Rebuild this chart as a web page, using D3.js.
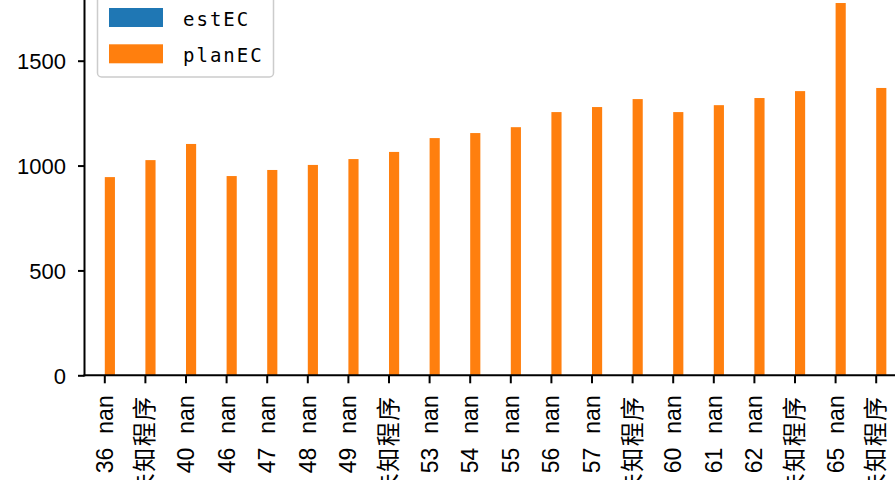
<!DOCTYPE html>
<html><head><meta charset="utf-8">
<script src="https://cdn.jsdelivr.net/npm/d3@7"></script>
<style>body{margin:0;background:#fff;}svg{display:block;}</style>
</head><body>
<svg id="c" width="895" height="480"></svg>
<script>
const categories = ["36 nan","39 未知程序","40 nan","46 nan","47 nan","48 nan","49 nan","52 未知程序","53 nan","54 nan","55 nan","56 nan","57 nan","59 未知程序","60 nan","61 nan","62 nan","64 未知程序","65 nan","66 未知程序"];
const estEC = [0,0,0,0,0,0,0,0,0,0,0,0,0,0,0,0,0,0,0,0];
const planEC = [945,1026,1103,950,979,1003,1031,1065,1131,1155,1183,1255,1279,1317,1255,1288,1322,1355,1775,1370];
const yTicks = [0,500,1000,1500];
const seriesNames = ["estEC","planEC"];
const colors = ["#1f77b4","#ff7f0e"];

const svg = d3.select("#c");
const left = 84.5, step = 40.6, bottom = 375.3;
const x = d3.scaleBand().domain(d3.range(categories.length)).range([left, left + step*categories.length]).padding(0);
const y = d3.scaleLinear().domain([0,1500]).range([bottom, 60.7]);
const bw = x.bandwidth()*0.25;

const g = svg.append("g");
g.selectAll(".est").data(estEC).enter().append("rect")
  .attr("x",(d,i)=>x(i)+x.bandwidth()/2-bw).attr("width",bw)
  .attr("y",d=>y(d)).attr("height",d=>y(0)-y(d)).attr("fill",colors[0]);
g.selectAll(".plan").data(planEC).enter().append("rect")
  .attr("x",(d,i)=>x(i)+x.bandwidth()/2).attr("width",bw)
  .attr("y",d=>y(d)).attr("height",d=>y(0)-y(d)).attr("fill",colors[1]);

// y axis
const yAxis = d3.axisLeft(y).tickValues(yTicks).tickSize(6.5).tickPadding(12).tickFormat(d3.format("d"));
const ya = svg.append("g").attr("transform",`translate(${left},0)`).call(yAxis);
ya.select(".domain").remove();
ya.selectAll("line").attr("stroke","#000").attr("stroke-width",2);
ya.selectAll("text").attr("font-family","Liberation Sans, Arial, sans-serif").attr("font-size",22).attr("fill","#000").attr("dy","0.35em");
svg.append("line").attr("x1",left).attr("x2",left).attr("y1",-5).attr("y2",bottom+1).attr("stroke","#000").attr("stroke-width",2);

// x axis
const xAxis = d3.axisBottom(x).tickSize(8).tickFormat("");
const xa = svg.append("g").attr("transform",`translate(0,${bottom})`).call(xAxis);
xa.select(".domain").remove();
xa.selectAll("line").attr("stroke","#000").attr("stroke-width",2);
xa.selectAll(".tick text").each(function(i){
  const t = d3.select(this).text(null)
    .attr("font-family","Liberation Sans, 'Noto Sans CJK SC', sans-serif").attr("font-size",23).attr("fill","#000")
    .attr("text-anchor","end").attr("y",0).attr("dy","0.35em")
    .attr("transform","translate(0,20) rotate(-90)");
  const parts = categories[i].split(" ");
  t.append("tspan").text(parts[0]);
  const isCJK = /[\u4e00-\u9fff]/.test(parts[1]);
  t.append("tspan").attr("dx",14).text(parts[1])
    .attr("font-family", isCJK ? "'Noto Sans CJK SC', sans-serif" : "Liberation Sans, sans-serif")
    .attr("font-size", isCJK ? 24 : 23).attr("letter-spacing", isCJK ? 1.5 : 0);
});
svg.append("line").attr("x1",left-1).attr("x2",900).attr("y1",bottom).attr("y2",bottom).attr("stroke","#000").attr("stroke-width",2);

// legend
const lg = svg.append("g");
lg.append("rect").attr("x",97.5).attr("y",-10).attr("width",176).attr("height",87).attr("rx",4)
  .attr("fill","#fff").attr("fill-opacity",0.8).attr("stroke","#cccccc").attr("stroke-width",1.5);
seriesNames.forEach((n,i)=>{
  lg.append("rect").attr("x",109).attr("y",8+i*36.3).attr("width",54).attr("height",19).attr("fill",colors[i]);
  lg.append("text").attr("x",183).attr("y",26+i*36.3).text(n)
    .attr("font-family","DejaVu Sans Mono, monospace").attr("font-size",19).attr("letter-spacing",2).attr("fill","#000");
});
</script>
</body></html>
